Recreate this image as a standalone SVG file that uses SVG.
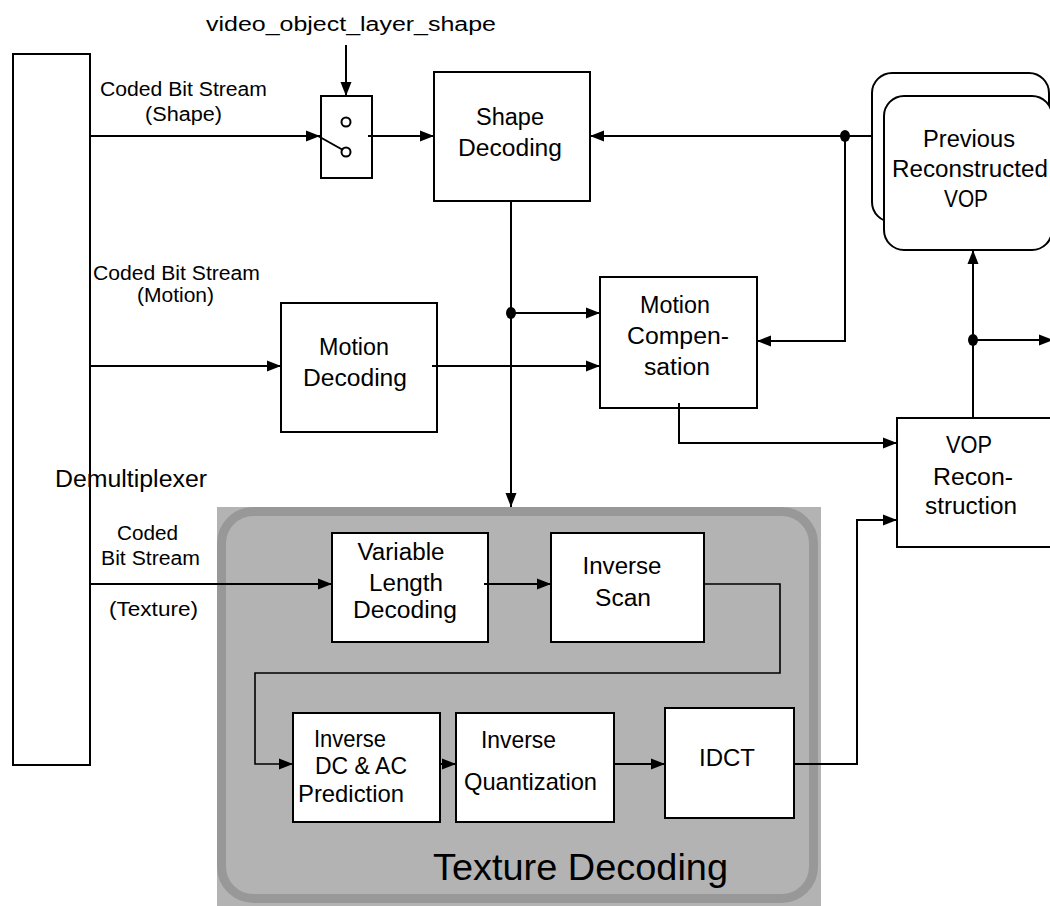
<svg xmlns="http://www.w3.org/2000/svg" width="1050" height="906" viewBox="0 0 1050 906">
<defs>
<marker id="arr" markerUnits="userSpaceOnUse" markerWidth="14" markerHeight="12" refX="14" refY="6" orient="auto">
<path d="M0,0.5 L14,6 L0,11.5 z" fill="#000"/>
</marker>
<style>
.box{fill:#fff;stroke:#000;stroke-width:2}
.ln{fill:none;stroke:#000;stroke-width:2}
.thin{fill:none;stroke:#000;stroke-width:1.6}
text{font-family:"Liberation Sans",Arial,sans-serif;fill:#000}
.lb{font-size:20px}
.bx{font-size:23px;text-anchor:middle}
.nr{font-size:24px}
.dot{fill:#000}
</style>
</defs>
<rect width="1050" height="906" fill="#fff"/>

<g id="texture-decoding">
<rect x="217" y="507" width="604" height="399" fill="#b3b3b3"/>
<rect x="221.5" y="511.5" width="592" height="387" rx="32" fill="none" stroke="#989898" stroke-width="9"/>
<text x="433" y="880" font-size="37" textLength="295" lengthAdjust="spacingAndGlyphs">Texture Decoding</text>
</g>

<g id="demultiplexer">
<rect class="box" x="13" y="54" width="77" height="711"/>
<text x="55" y="487" font-size="23" textLength="152" lengthAdjust="spacingAndGlyphs">Demultiplexer</text>
</g>

<g id="switch">
<rect class="box" x="321" y="96" width="51" height="82"/>
<circle cx="346" cy="122" r="4.5" fill="#fff" stroke="#000" stroke-width="2"/>
<circle cx="346" cy="152" r="4.5" fill="#fff" stroke="#000" stroke-width="2"/>
<line x1="318" y1="136" x2="343" y2="150" stroke="#000" stroke-width="2"/>
</g>

<g id="shape-decoding">
<rect class="box" x="434" y="72" width="156" height="129"/>
<text class="bx" x="510" y="125" textLength="68" lengthAdjust="spacingAndGlyphs">Shape</text>
<text class="bx" x="510" y="156" textLength="104" lengthAdjust="spacingAndGlyphs">Decoding</text>
</g>

<g id="motion-decoding">
<rect class="box" x="281" y="303" width="156" height="129"/>
<text class="bx" x="354" y="355" textLength="70" lengthAdjust="spacingAndGlyphs">Motion</text>
<text class="bx" x="355" y="386" textLength="104" lengthAdjust="spacingAndGlyphs">Decoding</text>
</g>

<g id="motion-compensation">
<rect class="box" x="600" y="277" width="157" height="131"/>
<text class="bx" x="675" y="313" textLength="70" lengthAdjust="spacingAndGlyphs">Motion</text>
<text class="bx" x="678" y="344" textLength="102" lengthAdjust="spacingAndGlyphs">Compen-</text>
<text class="bx" x="677" y="375" textLength="66" lengthAdjust="spacingAndGlyphs">sation</text>
</g>

<g id="previous-vop">
<rect class="box" x="872" y="73" width="177" height="149" rx="20"/>
<rect class="box" x="884" y="96" width="168" height="154" rx="20"/>
<text class="bx" x="969" y="147" textLength="92" lengthAdjust="spacingAndGlyphs">Previous</text>
<text class="bx" x="970" y="177" textLength="156" lengthAdjust="spacingAndGlyphs">Reconstructed</text>
<text class="bx" x="966" y="207" textLength="44" lengthAdjust="spacingAndGlyphs">VOP</text>
</g>

<g id="vop-reconstruction">
<rect class="box" x="897" y="418" width="156" height="129"/>
<text class="bx" x="969" y="453" textLength="46" lengthAdjust="spacingAndGlyphs">VOP</text>
<text class="bx" x="973" y="485" textLength="80" lengthAdjust="spacingAndGlyphs">Recon-</text>
<text class="bx" x="971" y="514" textLength="92" lengthAdjust="spacingAndGlyphs">struction</text>
</g>

<g id="vld">
<rect class="box" x="332" y="533" width="156" height="109"/>
<text class="bx" x="401" y="560" textLength="87" lengthAdjust="spacingAndGlyphs">Variable</text>
<text class="bx" x="406" y="591" textLength="74" lengthAdjust="spacingAndGlyphs">Length</text>
<text class="bx" x="405" y="618" textLength="104" lengthAdjust="spacingAndGlyphs">Decoding</text>
</g>

<g id="inverse-scan">
<rect class="box" x="551" y="533" width="153" height="109"/>
<text class="bx" x="622" y="574" textLength="79" lengthAdjust="spacingAndGlyphs">Inverse</text>
<text class="bx" x="623" y="606" textLength="56" lengthAdjust="spacingAndGlyphs">Scan</text>
</g>

<g id="inverse-dc-ac">
<rect class="box" x="293" y="713" width="147" height="109"/>
<text class="nr" x="314" y="747" textLength="72" lengthAdjust="spacingAndGlyphs">Inverse</text>
<text class="nr" x="315" y="774" textLength="92" lengthAdjust="spacingAndGlyphs">DC &amp; AC</text>
<text class="nr" x="298" y="802" textLength="106" lengthAdjust="spacingAndGlyphs">Prediction</text>
</g>

<g id="inverse-quantization">
<rect class="box" x="456" y="713" width="158" height="109"/>
<text class="nr" x="481" y="748" textLength="75" lengthAdjust="spacingAndGlyphs">Inverse</text>
<text class="nr" x="464" y="790" textLength="133" lengthAdjust="spacingAndGlyphs">Quantization</text>
</g>

<g id="idct">
<rect class="box" x="665" y="708" width="129" height="110"/>
<text class="nr" x="699" y="766" textLength="56" lengthAdjust="spacingAndGlyphs">IDCT</text>
</g>

<g id="labels">
<text class="lb" x="206" y="31" font-size="21" textLength="290" lengthAdjust="spacingAndGlyphs">video_object_layer_shape</text>
<text class="lb" x="100" y="96" textLength="167" lengthAdjust="spacingAndGlyphs">Coded Bit Stream</text>
<text class="lb" x="145" y="121" textLength="77" lengthAdjust="spacingAndGlyphs">(Shape)</text>
<text class="lb" x="93" y="280" textLength="167" lengthAdjust="spacingAndGlyphs">Coded Bit Stream</text>
<text class="lb" x="137" y="302" textLength="77" lengthAdjust="spacingAndGlyphs">(Motion)</text>
<text class="lb" x="117" y="540" textLength="61" lengthAdjust="spacingAndGlyphs">Coded</text>
<text class="lb" x="101" y="565" textLength="99" lengthAdjust="spacingAndGlyphs">Bit Stream</text>
<text class="lb" x="109" y="616" textLength="89" lengthAdjust="spacingAndGlyphs">(Texture)</text>
</g>

<g id="connectors">
<line class="ln" x1="346" y1="45" x2="346" y2="96" marker-end="url(#arr)"/>
<line class="ln" x1="90" y1="136" x2="320" y2="136" marker-end="url(#arr)"/>
<line class="ln" x1="368" y1="136" x2="434" y2="136" marker-end="url(#arr)"/>
<line class="ln" x1="872" y1="136" x2="590" y2="136" marker-end="url(#arr)"/>
<polyline class="ln" points="845,136 845,341 757,341" marker-end="url(#arr)"/>
<ellipse class="dot" cx="845" cy="136" rx="5" ry="6"/>
<line class="ln" x1="511" y1="201" x2="511" y2="507" marker-end="url(#arr)"/>
<line class="ln" x1="511" y1="313" x2="600" y2="313" marker-end="url(#arr)"/>
<ellipse class="dot" cx="511" cy="313" rx="5" ry="6"/>
<line class="ln" x1="90" y1="366" x2="281" y2="366" marker-end="url(#arr)"/>
<line class="ln" x1="432" y1="366" x2="600" y2="366" marker-end="url(#arr)"/>
<polyline class="ln" points="679,403 679,443 897,443" marker-end="url(#arr)"/>
<line class="ln" x1="973" y1="418" x2="973" y2="250" marker-end="url(#arr)"/>
<line class="ln" x1="973" y1="340" x2="1053" y2="340" marker-end="url(#arr)"/>
<ellipse class="dot" cx="973" cy="340" rx="5" ry="6"/>
<line class="ln" x1="90" y1="584" x2="332" y2="584" marker-end="url(#arr)"/>
<line class="ln" x1="484" y1="584" x2="551" y2="584" marker-end="url(#arr)"/>
<polyline class="thin" points="704,584 780,584 780,673 255,673 255,764 293,764" marker-end="url(#arr)"/>
<line class="ln" x1="440" y1="764" x2="456" y2="764" marker-end="url(#arr)"/>
<line class="ln" x1="614" y1="764" x2="665" y2="764" marker-end="url(#arr)"/>
<polyline class="ln" points="794,764 857,764 857,520 897,520" marker-end="url(#arr)"/>
</g>
</svg>
